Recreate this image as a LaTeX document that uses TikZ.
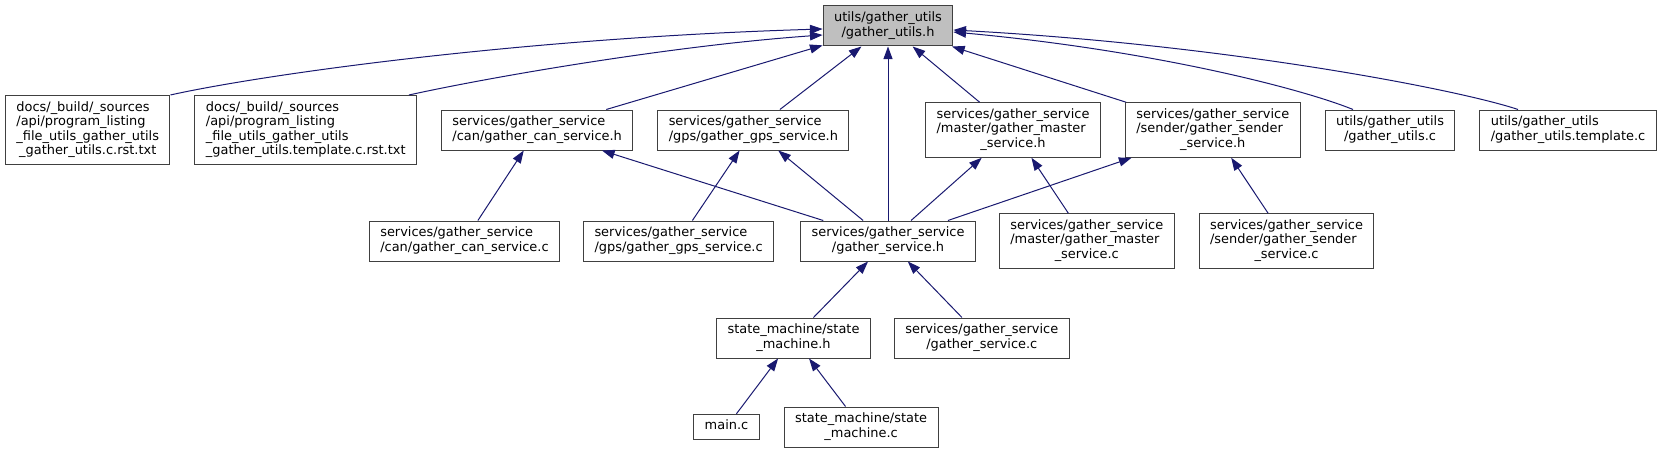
\documentclass[tikz,border=0pt]{standalone}
\usepackage{fontspec}
\setmainfont{DejaVu Sans}
\usepackage{xcolor}
\usepackage{tikz}
\usetikzlibrary{arrows.meta,positioning,calc}
\definecolor{edgeblue}{HTML}{191970}
\newcommand{\flines}[1]{\begin{tabular}{@{}l@{}}#1\end{tabular}}
\newcommand{\lastline}[1]{\multicolumn{1}{@{}c@{}}{#1}}

\begin{document}
\begin{tikzpicture}[x=0.75pt, y=-0.75pt, font=\fontsize{9.7}{10.9}\selectfont, file/.style={draw=black!75, line width=0.75pt, fill=white, inner xsep=8.2pt, inner ysep=4.1pt}, inc/.style={-{Triangle[length=9.5pt, width=6.8pt]}, edgeblue, line width=0.75pt}]
\path[use as bounding box, fill=white] (0,0) rectangle (1663,453);
\node[file, fill=black!25] (gu) at (888,26) {\flines{utils/gather\_utils\\\lastline{/gather\_utils.h}}};
\node[file, anchor=west] (docs1) at (5,130) {\flines{docs/\_build/\_sources\\/api/program\_listing\\\_file\_utils\_gather\_utils\\\lastline{\_gather\_utils.c.rst.txt}}};
\node[file, right=18pt of docs1] (docs2) {\flines{docs/\_build/\_sources\\/api/program\_listing\\\_file\_utils\_gather\_utils\\\lastline{\_gather\_utils.template.c.rst.txt}}};
\node[file, right=18pt of docs2] (canh) {\flines{services/gather\_service\\\lastline{/can/gather\_can\_service.h}}};
\node[file, right=18pt of canh] (gpsh) {\flines{services/gather\_service\\\lastline{/gps/gather\_gps\_service.h}}};
\node[file] (masterh) at (1013,130) {\flines{services/gather\_service\\/master/gather\_master\\\lastline{\_service.h}}};
\node[file, right=18pt of masterh] (senderh) {\flines{services/gather\_service\\/sender/gather\_sender\\\lastline{\_service.h}}};
\node[file, right=18pt of senderh] (utilsc) {\flines{utils/gather\_utils\\\lastline{/gather\_utils.c}}};
\node[file, right=18pt of utilsc] (templc) {\flines{utils/gather\_utils\\\lastline{/gather\_utils.template.c}}};
\node[file] (gsh) at (888,241) {\flines{services/gather\_service\\\lastline{/gather\_service.h}}};
\node[file, left=19.5pt of gsh] (gpsc) {\flines{services/gather\_service\\\lastline{/gps/gather\_gps\_service.c}}};
\node[file, left=17.25pt of gpsc] (canc) {\flines{services/gather\_service\\\lastline{/can/gather\_can\_service.c}}};
\node[file, right=17.25pt of gsh] (masterc) {\flines{services/gather\_service\\/master/gather\_master\\\lastline{\_service.c}}};
\node[file, right=18pt of masterc] (senderc) {\flines{services/gather\_service\\/sender/gather\_sender\\\lastline{\_service.c}}};
\node[file] (smh) at (793.5,338) {\flines{state\_machine/state\\\lastline{\_machine.h}}};
\node[file, right=17.25pt of smh] (gsc) {\flines{services/gather\_service\\\lastline{/gather\_service.c}}};
\node[file] (mainc) at (726.5,427) {\flines{main.c}};
\node[file, right=18pt of mainc] (smc) {\flines{state\_machine/state\\\lastline{\_machine.c}}};
\draw[inc] (docs1.north east) .. controls (260,75) and (520,38) .. ($(gu.west)+(0,3)$);
\draw[inc] ($(docs2.north east)+(-8,0)$) .. controls (500,75) and (680,45) .. ($(gu.west)+(0,9)$);
\draw[inc] (canh) -- (gu);
\draw[inc] (gpsh) -- (gu);
\draw[inc] (gsh) -- (gu);
\draw[inc] (masterh) -- (gu);
\draw[inc] (senderh) -- (gu);
\draw[inc] ($(utilsc.north)+(-37,0)$) .. controls (1300,88) and (1150,50) .. ($(gu.east)+(0,6)$);
\draw[inc] ($(templc.north)+(-50,0)$) .. controls (1460,90) and (1230,45) .. ($(gu.east)+(0,4)$);
\draw[inc] (canc) -- (canh);
\draw[inc] (gsh) -- (canh);
\draw[inc] (gpsc) -- (gpsh);
\draw[inc] (gsh) -- (gpsh);
\draw[inc] (gsh) -- (masterh);
\draw[inc] (masterc) -- (masterh);
\draw[inc] (gsh) -- (senderh);
\draw[inc] (senderc) -- (senderh);
\draw[inc] (smh) -- (gsh);
\draw[inc] (gsc) -- (gsh);
\draw[inc] (mainc) -- (smh);
\draw[inc] (smc) -- (smh);
\end{tikzpicture}
\end{document}
